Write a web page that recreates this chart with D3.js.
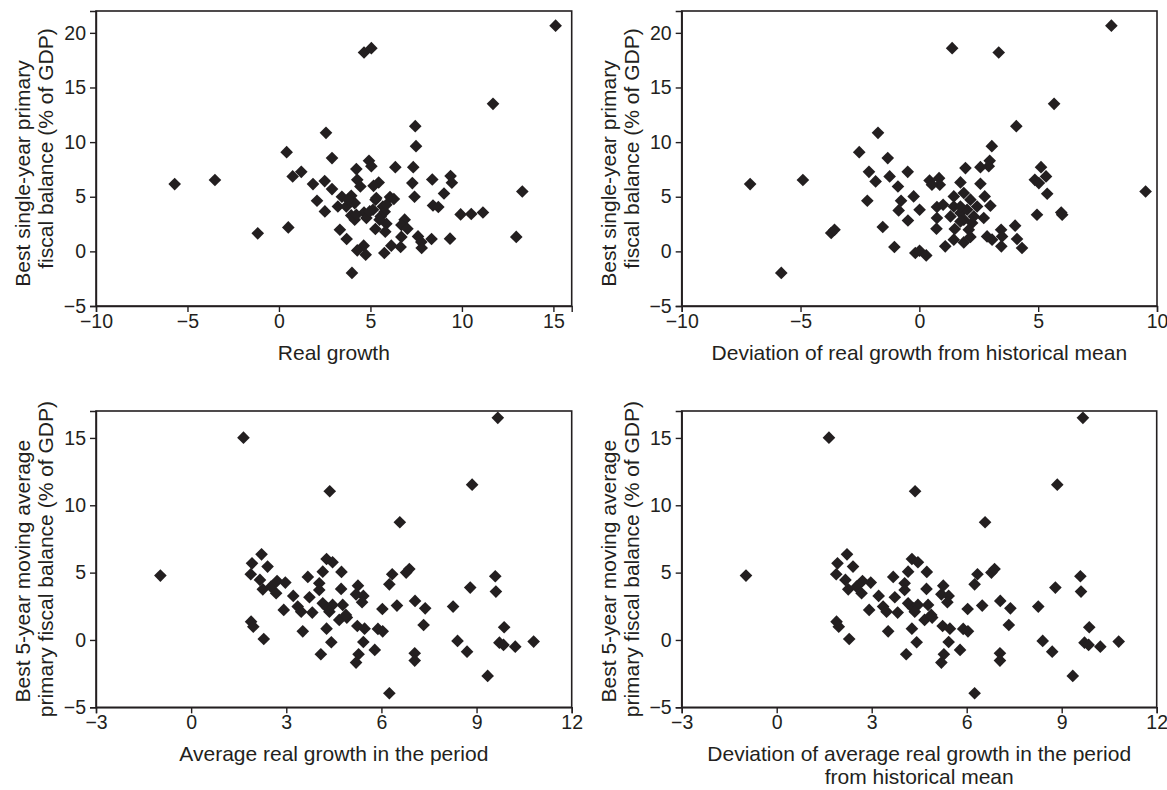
<!DOCTYPE html>
<html>
<head>
  <meta charset="utf-8">
  <script src="https://d3js.org/d3.v7.min.js"></script>
  <style>
    body { margin: 0; background: #fff; }
    .axis text { font: 19.5px "Liberation Sans", Arial, sans-serif; fill: #231f20; }
    .axis path, .axis line { stroke: #231f20; stroke-width: 1.4; fill: none; }
    .frame { fill: none; stroke: #231f20; stroke-width: 1.6; }
    .title { font: 21px "Liberation Sans", Arial, sans-serif; fill: #231f20; }
    .dot { fill: #231f20; }
  </style>
</head>
<body>
  <svg class="chart" width="1167" height="790"></svg>
  <script>
    // top-left: best single-year balance vs real growth
    var growthX = [15.12, 4.65, 5.05, 11.7, 7.45, 2.57, 7.49, 0.42, 2.9, 4.92, 5.05, 6.36, 7.34, 4.23, 1.22,
      0.75, 9.38, 8.38, -5.7, -3.5, 2.5, 7.29, 9.45, 1.86, 4.28, 4.45, 5.45, 5.17, 2.9, 13.3, 9.02, 6.07,
      6.28, 7.41, 2.08, 3.44, 3.95, 3.22, 3.68, 4.14, 5.28, 8.42, 8.71, 5.14, 5.68, 4.65, 2.51, 9.93, 10.51,
      11.15, 5.78, 3.95, 4.14, 4.78, 5.56, 6.87, 6.69, 5.87, 5.27, 5.81, 7.02, 3.33, 0.51, -1.16, 6.69, 7.6,
      7.78, 8.34, 9.35, 12.97, 3.7, 6.14, 6.65, 7.8, 4.63, 4.28, 4.74, 5.76, 3.99, 3.78, 5.32, 5.87, 4.96,
      4.23, 5.5];
    var singleYearY = [20.66, 18.2, 18.6, 13.5, 11.46, 10.85, 9.63, 9.08, 8.54, 8.29, 7.8, 7.71, 7.71, 7.53, 7.28,
      6.86, 6.89, 6.58, 6.16, 6.53, 6.43, 6.25, 6.28, 6.16, 6.55, 5.94, 6.3, 6.0, 5.7, 5.48, 5.3, 4.97,
      4.79, 5.0, 4.63, 5.0, 5.09, 4.11, 4.11, 4.42, 4.73, 4.2, 4.06, 3.81, 4.11, 3.56, 3.66, 3.38, 3.42,
      3.56, 3.63, 3.29, 2.9, 3.05, 3.2, 2.9, 2.41, 2.53, 2.05, 1.8, 2.07, 1.98, 2.19, 1.65, 1.32, 1.37,
      0.86, 1.13, 1.16, 1.32, 1.13, 0.52, 0.4, 0.31, 0.52, 0.09, -0.3, -0.15, -1.97, 4.73, 4.88, 4.27, 3.66,
      3.35, 2.9];

    // top-right: same balance vs deviation of growth from mean
    var deviationX = [8.08, 1.38, 3.34, 5.67, 4.08, -1.74, 3.05, -2.53, -1.33, 2.96, 2.92, 1.94, 2.57, 5.12, -2.12,
      -0.49, -1.84, 5.33, -7.12, -4.9, -1.25, 4.86, 5.03, 0.43, 0.83, 0.86, 0.53, 1.73, 2.57, -0.9, 5.38,
      9.52, -2.19, -0.77, -0.24, 1.45, 2.75, 1.87, 2.15, 2.43, 2.99, 0.74, 1.0, 0.01, -0.87, 1.45, 4.95,
      5.97, 6.01, 1.31, 1.73, 2.01, 2.71, 0.74, -0.48, 1.87, 2.22, -1.54, 0.72, 1.49, 2.08, 3.44, 4.03,
      -3.71, -3.57, 2.15, 2.85, 3.06, 3.48, 4.11, 1.45, 1.87, 1.09, -1.05, 3.45, 4.32, -0.17, 0.01, 0.29,
      -5.81, 1.73, 2.29, 1.73];
    var deviationY = [20.66, 18.6, 18.2, 13.5, 11.46, 10.85, 9.63, 9.08, 8.54, 8.29, 7.8, 7.62, 7.71, 7.71, 7.28,
      7.28, 6.4, 6.86, 6.16, 6.53, 6.86, 6.55, 6.25, 6.49, 6.7, 6.1, 6.1, 6.31, 6.19, 5.94, 5.27,
      5.48, 4.63, 4.63, 5.03, 5.03, 5.03, 5.34, 4.73, 4.11, 4.18, 4.06, 4.27, 3.81, 3.75, 4.11, 3.35,
      3.56, 3.35, 3.2, 3.51, 3.81, 3.05, 3.05, 2.83, 2.9, 2.6, 2.23, 2.07, 2.05, 1.98, 1.98, 2.35,
      1.68, 1.98, 1.32, 1.37, 1.07, 1.37, 1.13, 1.07, 0.82, 0.46, 0.4, 0.46, 0.31, -0.15, 0.06, -0.37,
      -1.97, 4.11, 3.2, 2.74];

    // bottom-left: best 5-year moving average vs average growth
    var avgGrowthX = [9.67, 1.65, 4.37, 8.86, 6.58, -0.97, 2.22, 1.92, 1.88, 2.41, 2.17, 2.26, 2.52, 2.68, 2.71,
      2.97, 3.22, 2.92, 3.36, 3.47, 3.68, 3.73, 3.82, 4.04, 4.04, 4.15, 4.27, 4.46, 4.74, 4.15, 4.31,
      4.46, 4.36, 4.73, 4.78, 4.67, 4.91, 4.88, 1.89, 1.96, 2.29, 3.52, 4.27, 4.42, 4.09, 5.26, 5.2,
      5.43, 5.39, 5.24, 5.47, 5.43, 5.28, 5.2, 5.79, 5.89, 6.04, 6.03, 6.25, 6.34, 6.49, 6.78, 6.88,
      7.06, 7.38, 7.33, 7.05, 7.05, 6.25, 8.26, 8.4, 8.7, 8.8, 9.59, 9.61, 9.87, 9.72, 9.85, 10.22,
      10.8, 9.35];
    var movingAvgY = [16.49, 15.02, 11.04, 11.53, 8.74, 4.78, 6.36, 5.69, 4.88, 5.45, 4.46, 3.76, 3.96, 3.47, 4.38,
      4.26, 3.27, 2.23, 2.48, 2.1, 4.68, 3.17, 2.03, 4.21, 3.71, 5.07, 6.01, 5.77, 5.05, 2.72, 2.35,
      2.6, 2.1, 3.79, 2.6, 1.49, 1.66, 1.86, 1.36, 0.99, 0.07, 0.64, 0.84, -0.17, -1.06, 4.03, 3.39,
      3.27, 2.8, 1.04, 0.84, -0.15, -1.06, -1.68, -0.74, 0.82, 0.64, 2.3, 4.13, 4.88, 2.55, 5.0, 5.27,
      2.9, 2.35, 1.11, -0.99, -1.53, -3.96, 2.48, -0.07, -0.87, 3.89, 4.73, 3.59, 0.94, -0.2, -0.37, -0.5,
      -0.12, -2.67];

    // bottom-right: reads the same as bottom-left in the picture
    var avgDeviationX = avgGrowthX.slice();
    var avgDeviationY = movingAvgY.slice();

    var ticksGrowth = [-10, -5, 0, 5, 10, 15];
    var ticksDeviation = [-10, -5, 0, 5, 10];
    var ticksSingle = [-5, 0, 5, 10, 15, 20];
    var ticksAvgX = [-3, 0, 3, 6, 9, 12];
    var ticksAvgY = [-5, 0, 5, 10, 15];

    var yTitleTop = ['Best single-year primary', 'fiscal balance (% of GDP)'];
    var yTitleBottom = ['Best 5-year moving average', 'primary fiscal balance (% of GDP)'];

    // shift = where each rotated title line is centred, relative to the panel middle
    var panels = [
      { left: 96, top: 11, w: 475.7, h: 295, xd: [-10, 16], yd: [-5, 22], xt: ticksGrowth, yt: ticksSingle,
        xs: growthX, ys: singleYearY, xTitle: ['Real growth'], yTitle: yTitleTop, shift: [15, -10] },
      { left: 681.7, top: 11, w: 475.3, h: 295, xd: [-10, 10], yd: [-5, 22], xt: ticksDeviation, yt: ticksSingle,
        xs: deviationX, ys: deviationY, xTitle: ['Deviation of real growth from historical mean'],
        yTitle: yTitleTop, shift: [15, -10] },
      { left: 96, top: 411, w: 475.7, h: 296.3, xd: [-3, 12], yd: [-5, 17], xt: ticksAvgX, yt: ticksAvgY,
        xs: avgGrowthX, ys: movingAvgY, xTitle: ['Average real growth in the period'],
        yTitle: yTitleBottom, shift: [12, 0] },
      { left: 681.7, top: 411, w: 475, h: 296.3, xd: [-3, 12], yd: [-5, 17], xt: ticksAvgX, yt: ticksAvgY,
        xs: avgDeviationX, ys: avgDeviationY,
        xTitle: ['Deviation of average real growth in the period', 'from historical mean'],
        yTitle: yTitleBottom, shift: [12, 0] }
    ];

    var svg = d3.select('.chart');
    var diamond = d3.symbol().type(d3.symbolSquare).size(80);

    panels.forEach(function (p) {
      var g = svg.append('g').attr('transform', 'translate(' + p.left + ',' + p.top + ')');
      var x = d3.scaleLinear().domain(p.xd).range([0, p.w]);
      var y = d3.scaleLinear().domain(p.yd).range([p.h, 0]);

      g.append('g')
        .attr('class', 'axis')
        .attr('transform', 'translate(0,' + p.h + ')')
        .call(d3.axisBottom(x).tickValues(p.xt).tickSizeOuter(0).tickSize(6).tickPadding(2));

      g.append('g')
        .attr('class', 'axis')
        .call(d3.axisLeft(y).tickValues(p.yt).tickSizeOuter(0).tickSize(6).tickPadding(4));

      g.append('rect').attr('class', 'frame').attr('width', p.w).attr('height', p.h);

      g.selectAll('.dot')
        .data(d3.range(p.xs.length))
        .enter()
        .append('path')
        .attr('class', 'dot')
        .attr('d', diamond)
        .attr('transform', function (i) {
          return 'translate(' + x(p.xs[i]) + ',' + y(p.ys[i]) + ') rotate(45)';
        });

      p.xTitle.forEach(function (t, k) {
        g.append('text')
          .attr('class', 'title')
          .attr('x', p.w / 2)
          .attr('y', p.h + 54 + k * 23)
          .attr('text-anchor', 'middle')
          .text(t);
      });

      p.yTitle.forEach(function (t, k) {
        g.append('text')
          .attr('class', 'title')
          .attr('transform', 'translate(' + (-66 + k * 23) + ',' + (p.h / 2 + p.shift[k]) + ') rotate(-90)')
          .attr('text-anchor', 'middle')
          .text(t);
      });
    });
  </script>
</body>
</html>
